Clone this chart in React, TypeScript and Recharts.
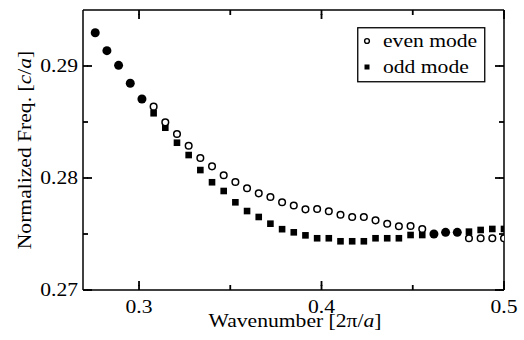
import React from 'react';
import { ScatterChart, Scatter, XAxis, YAxis, Legend } from 'recharts';

// wavenumber in units of 2π/a
const wavenumber = [
  0.276, 0.2824, 0.2888, 0.2952, 0.3016, 0.308, 0.3144, 0.3208, 0.3272, 0.3336,
  0.34, 0.3464, 0.3528, 0.3592, 0.3656, 0.372, 0.3784, 0.3848, 0.3912, 0.3976,
  0.404, 0.4104, 0.4168, 0.4232, 0.4296, 0.436, 0.4424, 0.4488, 0.4552, 0.4616,
  0.468, 0.4744, 0.4808, 0.4872, 0.4936, 0.5,
];

// normalized frequency [c/a], null where the two modes coincide
const evenMode = [
  null, null, null, null, null, 0.28637, 0.28497, 0.28393, 0.28288, 0.28179,
  0.28104, 0.28024, 0.27964, 0.27908, 0.27863, 0.2783, 0.27783, 0.27754, 0.2772, 0.27723,
  0.27703, 0.27672, 0.27652, 0.27652, 0.27622, 0.27592, 0.27569, 0.27571, 0.27545, null,
  null, null, 0.27462, 0.27462, 0.27462, 0.27462,
];

const oddMode = [
  null, null, null, null, null, 0.28578, 0.28449, 0.28315, 0.28205, 0.28071,
  0.27962, 0.27884, 0.27783, 0.27705, 0.27652, 0.27592, 0.27543, 0.27515, 0.27488, 0.27462,
  0.27462, 0.27435, 0.27435, 0.27435, 0.27462, 0.27462, 0.27462, 0.27491, 0.27491, null,
  null, null, 0.27521, 0.27536, 0.27545, 0.27545,
];

// points where both modes overlap (drawn as filled circles)
const degenerate = [
  0.29297, 0.29137, 0.29006, 0.28846, 0.28705, null, null, null, null, null,
  null, null, null, null, null, null, null, null, null, null,
  null, null, null, null, null, null, null, null, null, 0.275,
  0.27515, 0.27515, null, null, null, null,
];

const xTicks = [0.3, 0.35, 0.4, 0.45, 0.5];
const xLabels = [0.3, 0.4, 0.5];
const yTicks = [0.27, 0.275, 0.28, 0.285, 0.29];
const yLabels = [0.27, 0.28, 0.29];

const toPoints = (ys: (number | null)[]) =>
  wavenumber.map((x, i) => ({ x, y: ys[i] })).filter((p) => p.y !== null);

const FONT = 'Liberation Serif, Times New Roman, serif';
const MINOR = 5; // built-in tick line, drawn inward (negative tickSize)
const EXTRA = 4; // majors get this much more
const AXIS = { stroke: '#000', strokeWidth: 1.5 };
const TICKLINE = { stroke: '#000', strokeWidth: 1.8 };

// text that is a bit wider than normal, like the original figure
const WideText = ({ x, y, rotate = 0, anchor = 'middle', children }: any) => (
  <text
    transform={`translate(${x},${y}) rotate(${rotate}) scale(1.2,1)`}
    textAnchor={anchor}
    fontFamily={FONT}
    fontSize={18}
    fill="#000"
  >
    {children}
  </text>
);

const isLabel = (v: number, list: number[]) => list.some((l) => Math.abs(l - v) < 1e-9);

// tick props x/y sit at the inner end of the built-in tick line
const BottomTick = (props: any) => {
  const { x, y, payload } = props;
  if (!isLabel(payload.value, xLabels)) return <g />;
  return (
    <g>
      <path d={`M${x},${y + 1}v${-EXTRA - 1}`} stroke="#000" strokeWidth={1.8} fill="none" />
      <WideText x={x} y={y + MINOR + 23}>{payload.value}</WideText>
    </g>
  );
};

const TopTick = (props: any) => {
  const { x, y, payload } = props;
  if (!isLabel(payload.value, xLabels)) return <g />;
  return <path d={`M${x},${y - 1}v${EXTRA + 1}`} stroke="#000" strokeWidth={1.8} fill="none" />;
};

const LeftTick = (props: any) => {
  const { x, y, payload } = props;
  if (!isLabel(payload.value, yLabels)) return <g />;
  return (
    <g>
      <path d={`M${x - 1},${y}h${EXTRA + 1}`} stroke="#000" strokeWidth={1.8} fill="none" />
      <WideText x={x - MINOR - 5} y={y + 6} anchor="end">
        {payload.value.toFixed(2)}
      </WideText>
    </g>
  );
};

const RightTick = (props: any) => {
  const { x, y, payload } = props;
  if (!isLabel(payload.value, yLabels)) return <g />;
  return <path d={`M${x + 1},${y}h${-EXTRA - 1}`} stroke="#000" strokeWidth={1.8} fill="none" />;
};

const HollowCircle = ({ cx, cy }: any) => (
  <circle cx={cx} cy={cy} r={3.3} fill="#fff" stroke="#000" strokeWidth={1.5} />
);
const FilledSquare = ({ cx, cy }: any) => <rect x={cx - 3.3} y={cy - 3.3} width={6.6} height={6.6} fill="#000" />;
const FilledCircle = ({ cx, cy }: any) => <circle cx={cx} cy={cy} r={4.5} fill="#000" />;

const LegendBox = () => (
  <svg width={130} height={56}>
    <rect x={0.75} y={0.75} width={127} height={54} fill="#fff" stroke="#000" strokeWidth={1.3} />
    <circle cx={10} cy={14} r={2.4} fill="#fff" stroke="#000" strokeWidth={1.4} />
    <WideText x={26} y={20} anchor="start">even mode</WideText>
    <rect x={7.5} y={37.5} width={5} height={5} fill="#000" />
    <WideText x={26} y={45.5} anchor="start">odd mode</WideText>
  </svg>
);

const App: React.FC = () => {
  return (
    <div style={{ position: 'absolute', left: 0, top: 0, width: 524, height: 340, background: '#fff' }}>
      <svg width={524} height={340} style={{ position: 'absolute', left: 0, top: 0, pointerEvents: 'none' }}>
        <WideText x={295} y={327}>
          Wavenumber [2π/<tspan fontStyle="italic">a</tspan>]
        </WideText>
        <WideText x={31} y={150} rotate={-90}>
          Normalized Freq. [<tspan fontStyle="italic">c</tspan>/<tspan fontStyle="italic">a</tspan>]
        </WideText>
      </svg>
      <ScatterChart width={524} height={340} margin={{ top: 9, right: 19, bottom: 49, left: 82 }}>
        <XAxis
          xAxisId="b"
          dataKey="x"
          type="number"
          domain={[0.2693, 0.5]}
          allowDataOverflow
          ticks={xTicks}
          interval={0}
          height={1}
          tickSize={-MINOR}
          tickMargin={0}
          tickLine={TICKLINE}
          tick={<BottomTick />}
          axisLine={AXIS}
        />
        <XAxis
          xAxisId="t"
          orientation="top"
          dataKey="x"
          type="number"
          domain={[0.2693, 0.5]}
          allowDataOverflow
          ticks={xTicks}
          interval={0}
          height={1}
          tickSize={-MINOR}
          tickMargin={0}
          tickLine={TICKLINE}
          tick={<TopTick />}
          axisLine={AXIS}
        />
        <YAxis
          yAxisId="l"
          dataKey="y"
          type="number"
          domain={[0.27, 0.295]}
          allowDataOverflow
          ticks={yTicks}
          interval={0}
          width={1}
          tickSize={-MINOR}
          tickMargin={0}
          tickLine={TICKLINE}
          tick={<LeftTick />}
          axisLine={AXIS}
        />
        <YAxis
          yAxisId="r"
          orientation="right"
          dataKey="y"
          type="number"
          domain={[0.27, 0.295]}
          allowDataOverflow
          ticks={yTicks}
          interval={0}
          width={1}
          tickSize={-MINOR}
          tickMargin={0}
          tickLine={TICKLINE}
          tick={<RightTick />}
          axisLine={AXIS}
        />
        <Scatter
          name="odd mode"
          xAxisId="b"
          yAxisId="l"
          data={toPoints(oddMode)}
          shape={<FilledSquare />}
          isAnimationActive={false}
        />
        <Scatter
          name="even mode"
          xAxisId="b"
          yAxisId="l"
          data={toPoints(evenMode)}
          shape={<HollowCircle />}
          isAnimationActive={false}
        />
        <Scatter
          name="both"
          xAxisId="b"
          yAxisId="l"
          data={toPoints(degenerate)}
          shape={<FilledCircle />}
          isAnimationActive={false}
        />
        <Legend
          layout="vertical"
          align="center"
          verticalAlign="middle"
          content={<LegendBox />}
          wrapperStyle={{ position: 'absolute', left: 357, top: 27, width: 130, height: 56 }}
        />
      </ScatterChart>
    </div>
  );
};

export default App;
